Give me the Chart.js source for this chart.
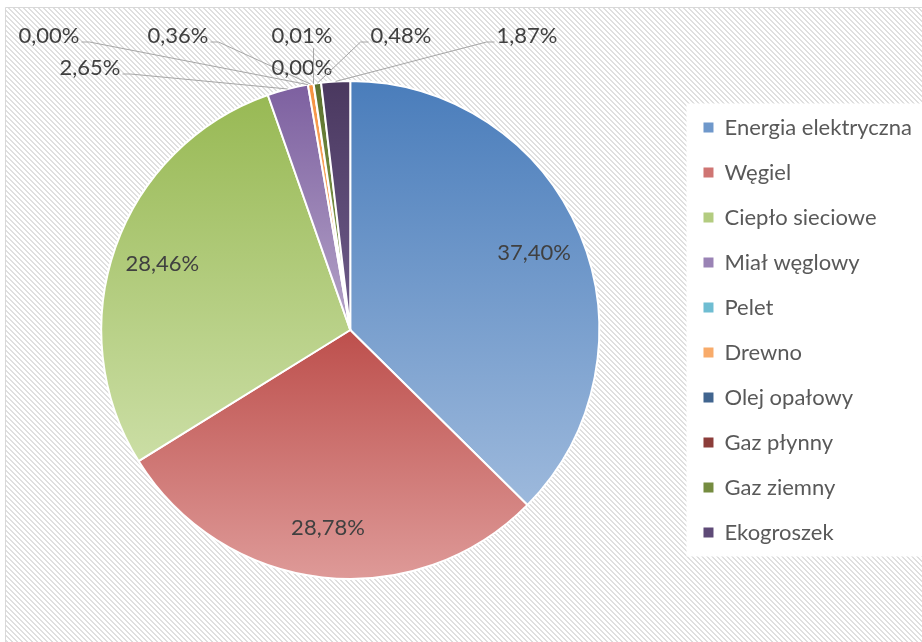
<!DOCTYPE html>
<html>
<head>
<meta charset="utf-8">
<script src="https://cdn.jsdelivr.net/npm/chart.js@4.4.0/dist/chart.umd.min.js"></script>
<style>
  html, body { margin: 0; padding: 0; background: #fff; }
  #wrap { width: 922px; height: 642px; }
</style>
</head>
<body>
<div id="wrap"><canvas id="chart"></canvas></div>
<script>
// data
const categories = ['Energia elektryczna', 'Węgiel', 'Ciepło sieciowe', 'Miał węglowy', 'Pelet',
  'Drewno', 'Olej opałowy', 'Gaz płynny', 'Gaz ziemny', 'Ekogroszek'];
const shares = [37.40, 28.78, 28.46, 2.65, 0.00, 0.36, 0.00, 0.01, 0.48, 1.87];

// colours: dark top / light bottom of each slice gradient
const topColors = ['#4a7dbb', '#bd4f4c', '#98b954', '#7d60a0', '#46aac5', '#f69240', '#2a4a72', '#742a28', '#5c722e', '#4a385f'];
const bottomColors = ['#9db9dc', '#de9a98', '#cbdea5', '#b4a3c8', '#94cedf', '#fac191', '#5b80ad', '#a4524f', '#8ba552', '#6f5d8c'];
const legendColors = ['#6f98cb', '#cf7573', '#b3cc80', '#9a83b5', '#6fbdd2', '#f8ab6a', '#41658f', '#8c3d3a', '#758c40', '#5e4a77'];

const FONT = 'Lato, "Liberation Sans", sans-serif';

// where the small slices put their labels (text centre) and which side the leader leaves from
const labelSpots = [null, null, null,
  { x: 90, y: 68, side: 'right' },
  { x: 49, y: 36, side: 'right' },
  { x: 178, y: 36, side: 'right' },
  { x: 302, y: 68, side: 'bottom' },
  { x: 302, y: 36, side: 'bottom' },
  { x: 401, y: 36, side: 'left' },
  { x: 527, y: 36, side: 'left' }];

function fmt(v) {
  return v.toFixed(2).replace('.', ',') + '%';
}

// hatched background tile
function makeHatch() {
  const c = document.createElement('canvas');
  c.width = 5; c.height = 5;
  const g = c.getContext('2d');
  const img = g.createImageData(5, 5);
  for (let y = 0; y < 5; y++) {
    for (let x = 0; x < 5; x++) {
      const k = (y * 5 + x) * 4;
      const on = ((x - y + 50) % 5) < 2;
      const v = on ? 0xdf : 0xff;
      img.data[k] = v; img.data[k + 1] = v; img.data[k + 2] = v; img.data[k + 3] = 255;
    }
  }
  g.putImageData(img, 0, 0);
  return c;
}
const hatchTile = makeHatch();

const background = {
  id: 'background',
  beforeDraw(chart) {
    const ctx = chart.ctx;
    ctx.save();
    ctx.fillStyle = '#fff';
    ctx.fillRect(0, 0, chart.width, chart.height);
    ctx.fillStyle = ctx.createPattern(hatchTile, 'repeat');
    ctx.fillRect(6, 8, chart.width, chart.height);
    ctx.strokeStyle = '#d9d9d9';
    ctx.lineWidth = 1;
    ctx.beginPath();
    ctx.moveTo(5.5, chart.height);
    ctx.lineTo(5.5, 7.5);
    ctx.lineTo(chart.width, 7.5);
    ctx.stroke();
    // white box behind the legend
    const boxes = chart.legend && chart.legend.legendHitBoxes;
    if (boxes && boxes.length) {
      const first = boxes[0], last = boxes[boxes.length - 1];
      ctx.fillStyle = '#fff';
      ctx.fillRect(first.left - 17, first.top - 13, chart.width, last.top + last.height - first.top + 26);
    }
    ctx.restore();
  }
};

const pieLabels = {
  id: 'pieLabels',
  afterDatasetsDraw(chart) {
    const ctx = chart.ctx;
    const arcs = chart.getDatasetMeta(0).data;
    ctx.save();
    ctx.font = '22px ' + FONT;
    ctx.fillStyle = '#404040';
    ctx.strokeStyle = '#a6a6a6';
    ctx.lineWidth = 1;
    ctx.textAlign = 'center';
    ctx.textBaseline = 'middle';
    arcs.forEach((arc, i) => {
      const p = arc.getProps(['x', 'y', 'startAngle', 'endAngle', 'outerRadius'], true);
      const mid = (p.startAngle + p.endAngle) / 2;
      const text = fmt(shares[i]);
      const spot = labelSpots[i];
      if (!spot) {
        const r = p.outerRadius * 0.8;
        ctx.fillText(text, p.x + Math.cos(mid) * r, p.y + Math.sin(mid) * r);
        return;
      }
      const w = ctx.measureText(text).width;
      const ex = p.x + Math.cos(mid) * p.outerRadius;
      const ey = p.y + Math.sin(mid) * p.outerRadius;
      ctx.beginPath();
      if (spot.side === 'right') {
        const sx = spot.x + w / 2 + 2, sy = spot.y + 6;
        ctx.moveTo(sx, sy);
        ctx.lineTo(sx + 8, sy);
      } else if (spot.side === 'left') {
        const sx = spot.x - w / 2 - 2, sy = spot.y + 6;
        ctx.moveTo(sx, sy);
        ctx.lineTo(sx - 8, sy);
      } else {
        ctx.moveTo(ex, spot.y + 12);
      }
      ctx.lineTo(ex, ey);
      ctx.stroke();
      ctx.fillText(text, spot.x, spot.y);
    });
    ctx.restore();
  }
};

// vertical gradient spanning each slice's own height
function sliceFill(context) {
  const chart = context.chart;
  const i = context.dataIndex;
  const area = chart.chartArea;
  if (!area) return legendColors[i];
  const cx = (area.left + area.right) / 2;
  const cy = (area.top + area.bottom) / 2;
  const r = (Math.min(area.right - area.left, area.bottom - area.top) - 2) / 2;
  const total = shares.reduce((a, b) => a + b, 0);
  const before = shares.slice(0, i).reduce((a, b) => a + b, 0);
  const a0 = -Math.PI / 2 + 2 * Math.PI * before / total;
  const a1 = a0 + 2 * Math.PI * shares[i] / total;
  let yMin = cy, yMax = cy;
  for (let s = 0; s <= 60; s++) {
    const y = cy + Math.sin(a0 + (a1 - a0) * s / 60) * r;
    yMin = Math.min(yMin, y);
    yMax = Math.max(yMax, y);
  }
  if (yMax - yMin < 2) yMax = yMin + 2;
  const g = chart.ctx.createLinearGradient(0, yMin, 0, yMax);
  g.addColorStop(0, topColors[i]);
  g.addColorStop(1, bottomColors[i]);
  return g;
}

new Chart(document.getElementById('chart'), {
  type: 'pie',
  data: {
    labels: categories,
    datasets: [{
      data: shares,
      backgroundColor: sliceFill,
      borderColor: '#ffffff',
      borderWidth: 2,
      hoverOffset: 0
    }]
  },
  options: {
    responsive: true,
    maintainAspectRatio: false,
    animation: false,
    layout: { padding: { left: 20, top: 80, bottom: 62, right: 0 } },
    plugins: {
      tooltip: { enabled: false },
      legend: {
        position: 'right',
        labels: {
          boxWidth: 10,
          boxHeight: 10,
          padding: 23,
          color: '#595959',
          font: { family: FONT, size: 22 },
          generateLabels: () => categories.map((t, i) => ({
            text: t,
            fillStyle: legendColors[i],
            strokeStyle: legendColors[i],
            lineWidth: 0,
            fontColor: '#595959',
            hidden: false,
            index: i
          }))
        }
      }
    }
  },
  plugins: [background, pieLabels]
});
</script>
</body>
</html>
